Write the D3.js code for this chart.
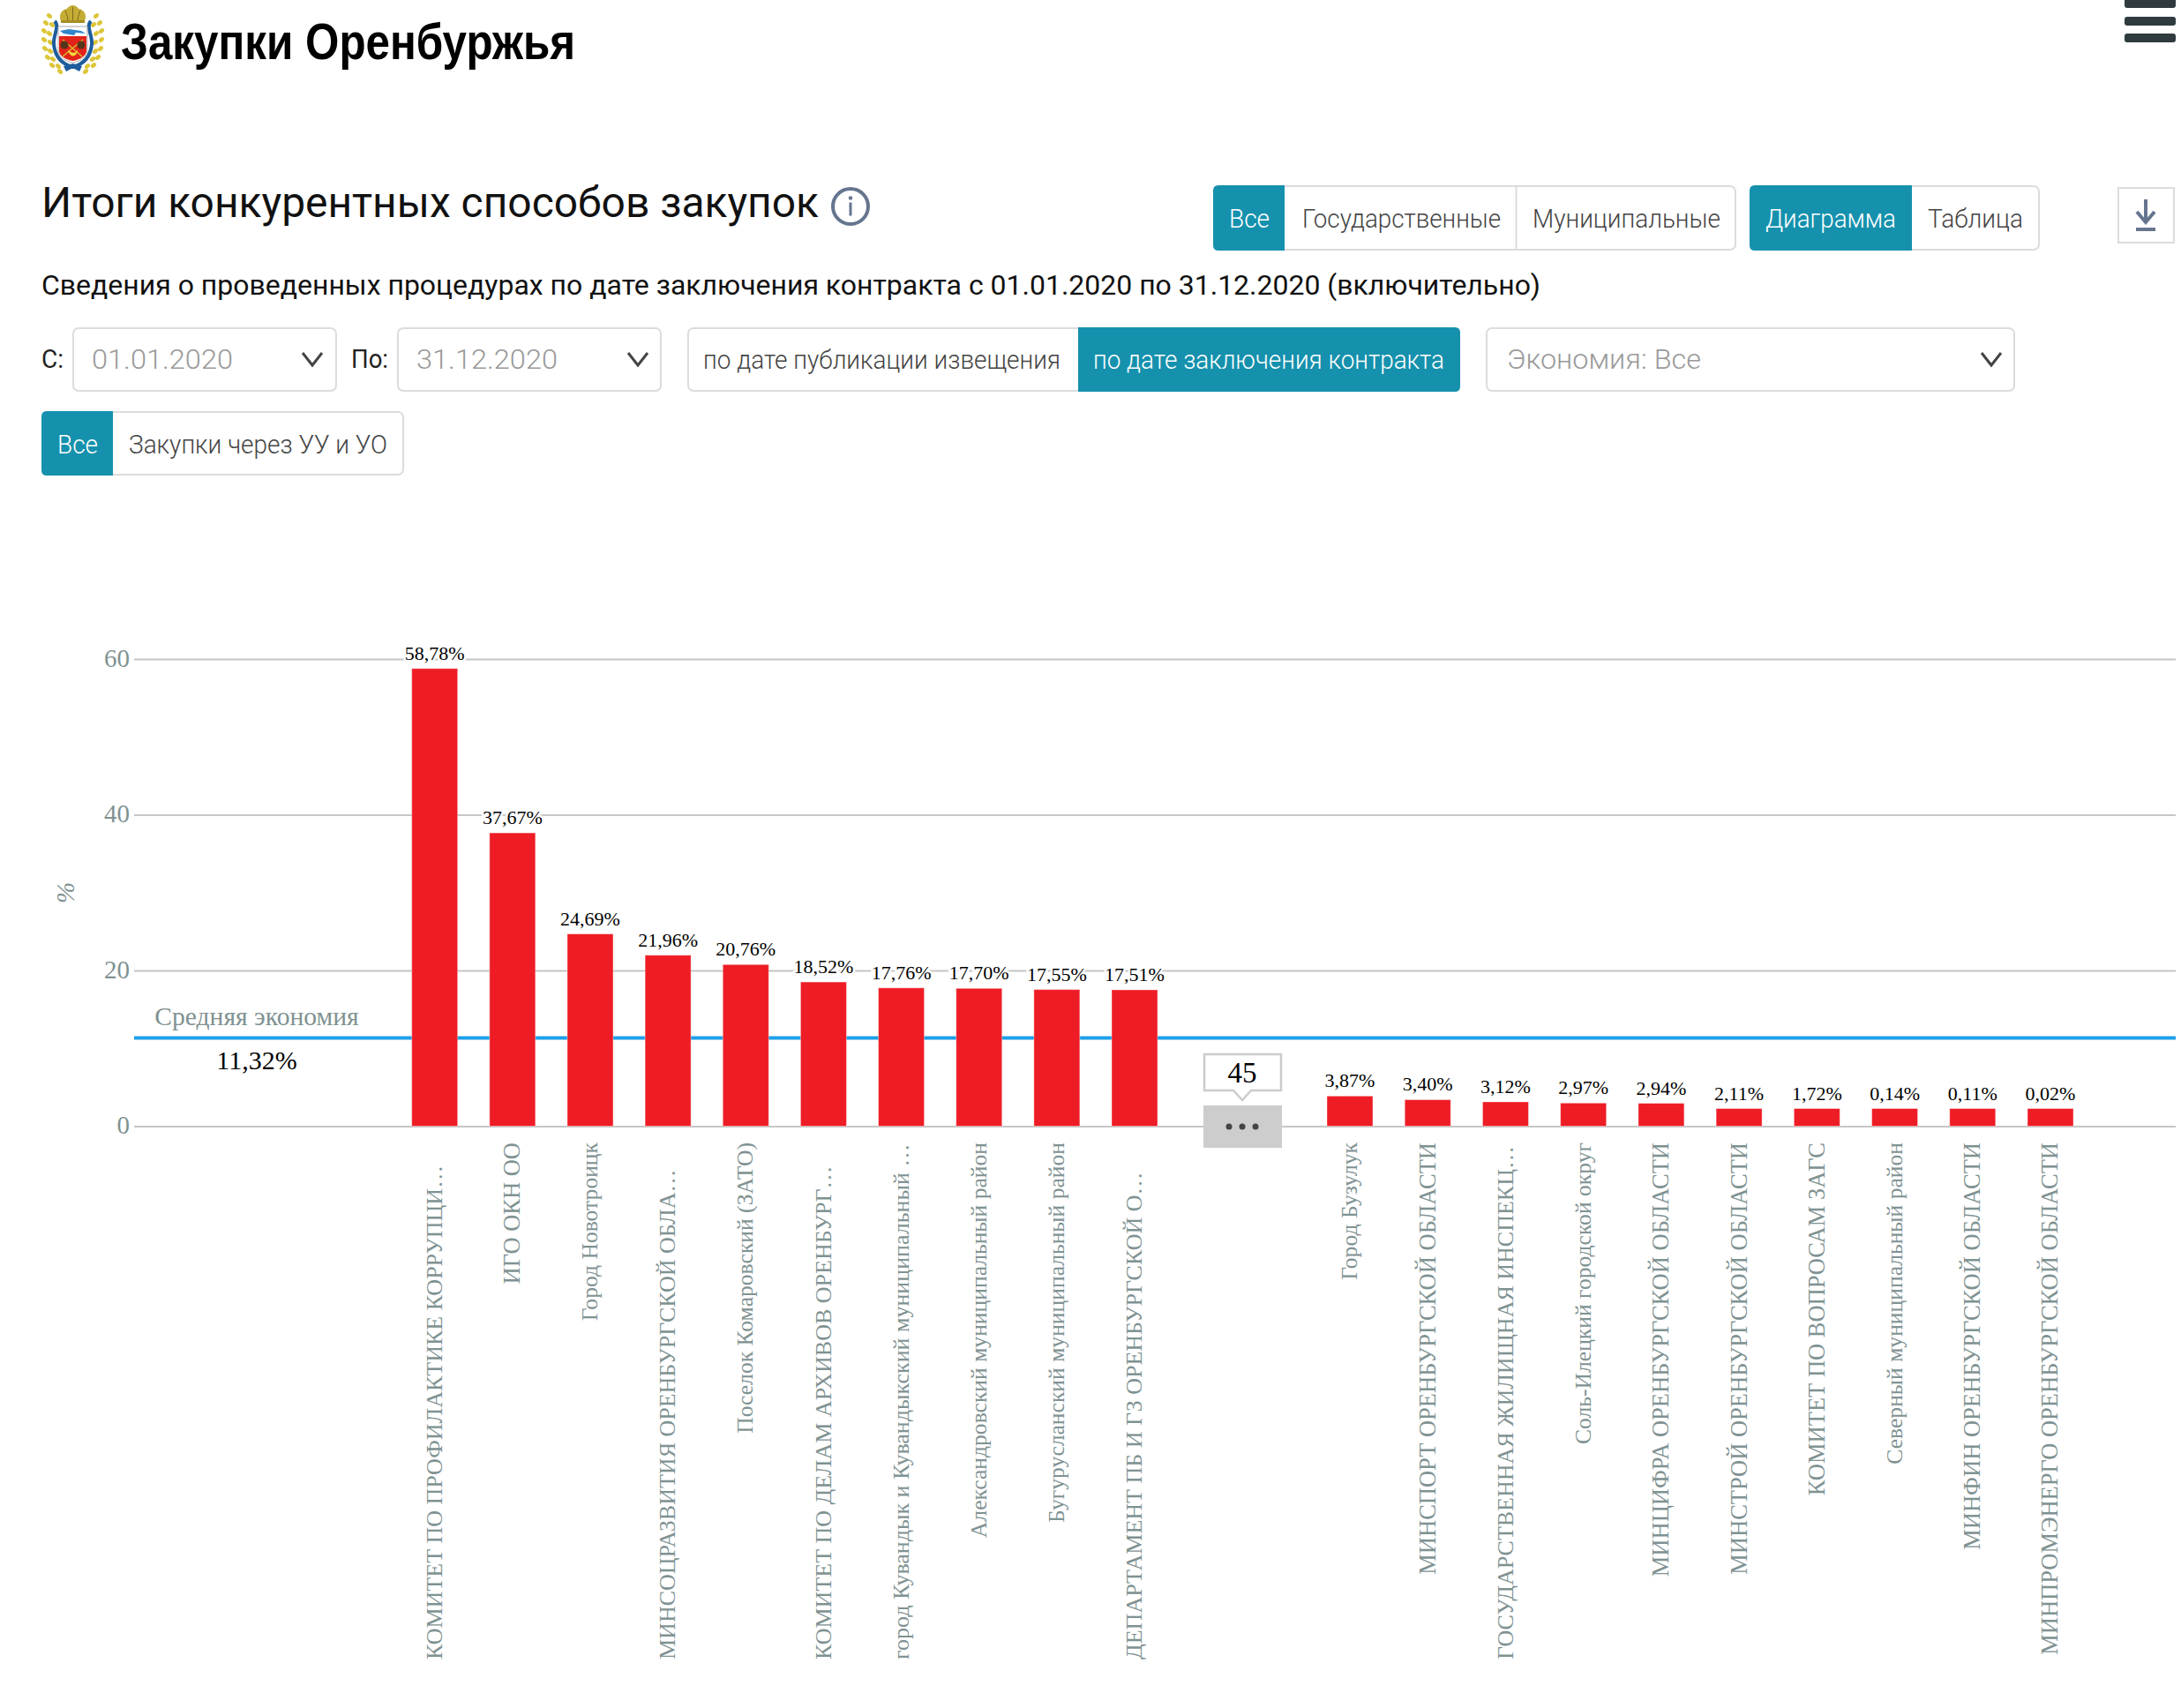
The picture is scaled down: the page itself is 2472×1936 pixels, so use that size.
<!DOCTYPE html>
<html lang="ru">
<head>
<meta charset="utf-8">
<title>Закупки Оренбуржья</title>
<script src="https://cdn.jsdelivr.net/npm/d3@7"></script>
<style>
  html, body { margin: 0; padding: 0; background: #fff; }
  svg { display: block; }
</style>
</head>
<body>
<div id="chart"></div>
<script>
// Chart data
const categories = [
  "КОМИТЕТ ПО ПРОФИЛАКТИКЕ КОРРУПЦИ…",
  "ИГО ОКН ОО",
  "Город Новотроицк",
  "МИНСОЦРАЗВИТИЯ ОРЕНБУРГСКОЙ ОБЛА…",
  "Поселок Комаровский (ЗАТО)",
  "КОМИТЕТ ПО ДЕЛАМ АРХИВОВ ОРЕНБУРГ…",
  "город Кувандык и Кувандыкский муниципальный …",
  "Александровский муниципальный район",
  "Бугурусланский муниципальный район",
  "ДЕПАРТАМЕНТ ПБ И ГЗ ОРЕНБУРГСКОЙ О…",
  "Город Бузулук",
  "МИНСПОРТ ОРЕНБУРГСКОЙ ОБЛАСТИ",
  "ГОСУДАРСТВЕННАЯ ЖИЛИЩНАЯ ИНСПЕКЦ…",
  "Соль-Илецкий городской округ",
  "МИНЦИФРА ОРЕНБУРГСКОЙ ОБЛАСТИ",
  "МИНСТРОЙ ОРЕНБУРГСКОЙ ОБЛАСТИ",
  "КОМИТЕТ ПО ВОПРОСАМ ЗАГС",
  "Северный муниципальный район",
  "МИНФИН ОРЕНБУРГСКОЙ ОБЛАСТИ",
  "МИНПРОМЭНЕРГО ОРЕНБУРГСКОЙ ОБЛАСТИ"
];
const savings = [58.78, 37.67, 24.69, 21.96, 20.76, 18.52, 17.76, 17.70, 17.55, 17.51,
  3.87, 3.40, 3.12, 2.97, 2.94, 2.11, 1.72, 0.14, 0.11, 0.02];
const yTicks = [0, 20, 40, 60];
const averageSaving = 11.32;
const hiddenCount = 45;

const teal = "#1591ad";
const border = "#dcdcdc";
const axisGrey = "#7f9292";
const sans = "Roboto, sans-serif";
const serif = "'Liberation Serif', serif";

const svg = d3.select("#chart").append("svg")
  .attr("width", 2472)
  .attr("height", 1936);

// ---------- Chart ----------
const y = d3.scaleLinear().domain([0, 60]).range([1276.5, 747]);
// first ten bars, then the collapsed gap, then the last ten
const x = d3.scaleLinear().domain([0, 9, 10, 19]).range([492.7, 1286, 1530, 2324]);
const barWidth = 52;
const minBarHeight = 20;
const barTop = v => Math.min(y(v), y(0) - minBarHeight);
const fmt = v => v.toFixed(2).replace(".", ",") + "%";

const chart = svg.append("g");

// Grid and y labels
const yAxis = chart.append("g")
  .attr("transform", "translate(152,0)")
  .call(d3.axisLeft(y).tickValues(yTicks).tickSize(-2314).tickPadding(5));
yAxis.select(".domain").remove();
yAxis.selectAll(".tick line").attr("stroke", "#c6c6c6").attr("stroke-width", 2);
yAxis.selectAll(".tick text")
  .attr("fill", axisGrey)
  .attr("dy", 8)
  .style("font", `29px ${serif}`);

chart.append("text")
  .attr("transform", "translate(84,1012) rotate(-90)")
  .attr("text-anchor", "middle")
  .attr("fill", axisGrey)
  .style("font", `italic 29px ${serif}`)
  .text("%");

// Average line
chart.append("line")
  .attr("x1", 152).attr("x2", 2466)
  .attr("y1", y(averageSaving)).attr("y2", y(averageSaving))
  .attr("stroke", "#1e9fe8")
  .attr("stroke-width", 4);

chart.append("text")
  .attr("x", 291).attr("y", 1162)
  .attr("text-anchor", "middle")
  .attr("fill", axisGrey)
  .style("font", `29.6px ${serif}`)
  .text("Средняя экономия");

chart.append("text")
  .attr("x", 291).attr("y", 1212)
  .attr("text-anchor", "middle")
  .attr("fill", "#000")
  .style("font", `30px ${serif}`)
  .text(fmt(averageSaving));

// Bars
chart.append("g").selectAll("rect")
  .data(savings)
  .enter()
  .append("rect")
  .attr("x", (d, i) => x(i) - barWidth / 2)
  .attr("y", d => barTop(d))
  .attr("width", barWidth)
  .attr("height", d => y(0) - barTop(d))
  .attr("fill", "#ee1c25")
  .attr("stroke", "#fff")
  .attr("stroke-opacity", 0.4)
  .attr("stroke-width", 1);

// Value labels with white halo
chart.append("g").selectAll("text")
  .data(savings)
  .enter()
  .append("text")
  .attr("x", (d, i) => x(i))
  .attr("y", d => barTop(d) - 10)
  .attr("text-anchor", "middle")
  .attr("fill", "#000")
  .attr("stroke", "#fff")
  .attr("stroke-width", 5)
  .attr("paint-order", "stroke")
  .style("font", `22px ${serif}`)
  .text(d => fmt(d));

// Category labels. Cut names run from the bottom edge, whole ones hang from the axis
const isCut = i => categories[i].endsWith("…");
const isCaps = i => categories[i] === categories[i].toUpperCase();
const xAxis = chart.append("g")
  .attr("transform", "translate(0,1295)")
  .call(d3.axisBottom(x)
    .tickValues(d3.range(categories.length))
    .tickFormat(i => categories[i])
    .tickSize(0));
xAxis.select(".domain").remove();
xAxis.selectAll(".tick text")
  .attr("fill", axisGrey)
  .style("font", d => `${isCut(d) ? 26 : isCaps(d) ? 26.5 : 25.6}px ${serif}`)
  .attr("dy", "0.3em")
  .attr("y", 0)
  .attr("transform", d => isCut(d) ? "translate(0,586) rotate(-90)" : "rotate(-90)")
  .attr("text-anchor", d => isCut(d) ? "start" : "end");

// Collapsed bars block with its counter
chart.append("rect")
  .attr("x", 1364).attr("y", 1253)
  .attr("width", 89).attr("height", 48)
  .attr("fill", "#cdcdcd");
chart.append("g").selectAll("circle")
  .data([-15, 0, 15])
  .enter()
  .append("circle")
  .attr("cx", d => 1408 + d).attr("cy", 1277).attr("r", 3.5)
  .attr("fill", "#444");
chart.append("path")
  .attr("d", "M1365,1195H1452V1236H1418L1408,1247L1398,1236H1365Z")
  .attr("fill", "#fff")
  .attr("stroke", "#ccc")
  .attr("stroke-width", 2.5);
chart.append("text")
  .attr("x", 1408).attr("y", 1227)
  .attr("text-anchor", "middle")
  .attr("fill", "#000")
  .style("font", `33px ${serif}`)
  .text(hiddenCount);

// ---------- Page controls ----------
const ui = svg.append("g");

function label(txt, x0, baseline, size, color, extra) {
  const t = ui.append("text")
    .attr("x", x0).attr("y", baseline)
    .attr("fill", color)
    .style("font", `${extra && extra.weight || 400} ${size}px ${extra && extra.family || sans}`)
    .text(txt);
  if (extra && extra.len) {
    t.attr("textLength", extra.len).attr("lengthAdjust", "spacingAndGlyphs");
  }
  return t;
}

function box(x0, y0, w, h) {
  ui.append("rect")
    .attr("x", x0).attr("y", y0)
    .attr("width", w).attr("height", h)
    .attr("rx", 6)
    .attr("fill", "#fff")
    .attr("stroke", border)
    .attr("stroke-width", 2);
}

// active part of a button group, rounded only on the outer side
function activePart(x0, y0, w, h, side) {
  const r = 6;
  const d = side === "left"
    ? `M${x0 + w},${y0}H${x0 + r}Q${x0},${y0} ${x0},${y0 + r}V${y0 + h - r}Q${x0},${y0 + h} ${x0 + r},${y0 + h}H${x0 + w}Z`
    : `M${x0},${y0}H${x0 + w - r}Q${x0 + w},${y0} ${x0 + w},${y0 + r}V${y0 + h - r}Q${x0 + w},${y0 + h} ${x0 + w - r},${y0 + h}H${x0}Z`;
  ui.append("path").attr("d", d).attr("fill", teal);
}

function chevron(cx, cy) {
  ui.append("path")
    .attr("d", `M${cx - 11},${cy - 7}L${cx},${cy + 7}L${cx + 11},${cy - 7}`)
    .attr("fill", "none")
    .attr("stroke", "#444")
    .attr("stroke-width", 3);
}

// Header
label("Закупки Оренбуржья", 137, 67, 58, "#000", { weight: 700, family: "'Liberation Sans', sans-serif", len: 515 });

// Coat of arms: two wreaths, ribbon, crown, shield
const arms = ui.append("g");
const leaves = [[56, 18], [52, 26], [59, 28], [50, 35], [56, 38], [50, 45], [57, 48], [51, 55], [57, 58], [54, 65], [60, 67], [59, 74], [66, 75], [68, 81]];
[1, -1].forEach(side => {
  leaves.forEach(l => {
    arms.append("ellipse")
      .attr("cx", side > 0 ? l[0] : 165 - l[0])
      .attr("cy", l[1])
      .attr("rx", 3.4).attr("ry", 2.4)
      .attr("transform", `rotate(${side * 40} ${side > 0 ? l[0] : 165 - l[0]} ${l[1]})`)
      .attr("fill", "#dcc63a");
  });
});
arms.append("path")
  .attr("d", "M62,24C68,30 60,40 61,50C62,62 68,72 82.5,76C97,72 103,62 104,50C105,40 97,30 103,24")
  .attr("fill", "none").attr("stroke", "#1d5c9c").attr("stroke-width", 4);
arms.append("path").attr("d", "M72,75L82.5,72L93,75L90,81L82.5,77L75,81Z").attr("fill", "#1d5c9c");
arms.append("path").attr("d", "M69,24C66,16 70,11 76,10C78,7 80,6 82.5,6C85,6 87,7 89,10C95,11 99,16 96,24Z").attr("fill", "#c4ac35");
arms.append("path").attr("d", "M74,12C76,17 77,20 77,24M82.5,8V24M91,12C89,17 88,20 88,24").attr("fill", "none").attr("stroke", "#7d6a1c").attr("stroke-width", 1);
arms.append("rect").attr("x", 69).attr("y", 23).attr("width", 27).attr("height", 3).attr("fill", "#a58c24");
arms.append("path").attr("d", "M66,30H99V58C99,64 90,70 82.5,71C75,70 66,64 66,58Z").attr("fill", "#fff").attr("stroke", "#a9a9a9").attr("stroke-width", 1);
arms.append("path").attr("d", "M68,35L78,33L92,35L97,38L86,37L84,40L72,38Z").attr("fill", "#2f86cc");
arms.append("path").attr("d", "M67,41H98V58C98,63 90,68 82.5,69C75,68 67,63 67,58Z").attr("fill", "#e2231a");
arms.append("path").attr("d", "M71,45L93,64M94,45L71,64").attr("stroke", "#d8b92e").attr("stroke-width", 1.5);
arms.append("circle").attr("cx", 73).attr("cy", 51).attr("r", 4.5).attr("fill", "#54351a");
arms.append("circle").attr("cx", 92).attr("cy", 51).attr("r", 4.5).attr("fill", "#54351a");
arms.append("path").attr("d", "M77,56C79,66 87,66 88,56C86,61 81,61 77,56Z").attr("fill", "#f3d838");

// Hamburger
[[-6, 15], [19, 10], [38, 10]].forEach(b => {
  ui.append("rect")
    .attr("x", 2408).attr("y", b[0])
    .attr("width", 58).attr("height", b[1])
    .attr("rx", 3)
    .attr("fill", "#2f3b3f");
});

// Title
label("Итоги конкурентных способов закупок", 47, 246, 48, "#111", { len: 881 });
ui.append("circle").attr("cx", 964).attr("cy", 234).attr("r", 20)
  .attr("fill", "none").attr("stroke", "#66758f").attr("stroke-width", 4);
ui.append("circle").attr("cx", 964).attr("cy", 224.5).attr("r", 2.2).attr("fill", "#66758f");
ui.append("rect").attr("x", 962.5).attr("y", 229.5).attr("width", 3).attr("height", 15).attr("fill", "#66758f");

label("Сведения о проведенных процедурах по дате заключения контракта с 01.01.2020 по 31.12.2020 (включительно)", 47, 334, 32, "#111", { len: 1699 });

// Top-right button groups
box(1376, 211, 591, 72);
activePart(1375, 210, 81, 74, "left");
ui.append("line").attr("x1", 1718.5).attr("x2", 1718.5).attr("y1", 211).attr("y2", 283).attr("stroke", border).attr("stroke-width", 2);
label("Все", 1393, 258, 29, "#fff", { len: 46, weight: 300 });
label("Государственные", 1476, 258, 29, "#444", { len: 225, weight: 300 });
label("Муниципальные", 1737, 258, 29, "#444", { len: 213, weight: 300 });

box(1984, 211, 327, 72);
activePart(1983, 210, 184, 74, "left");
label("Диаграмма", 2001, 258, 29, "#fff", { len: 148, weight: 300 });
label("Таблица", 2185, 258, 29, "#444", { len: 108, weight: 300 });

// Download button
ui.append("rect").attr("x", 2401).attr("y", 213).attr("width", 63).attr("height", 62)
  .attr("fill", "#fff").attr("stroke", border).attr("stroke-width", 2);
ui.append("path").attr("d", "M2432,226V252M2422,240L2432,252L2442,240")
  .attr("fill", "none").attr("stroke", "#66758f").attr("stroke-width", 4);
ui.append("rect").attr("x", 2421).attr("y", 258).attr("width", 22).attr("height", 4).attr("fill", "#66758f");

// Filters row
label("С:", 47, 417, 29, "#222", { len: 25 });
box(83, 372, 298, 71);
label("01.01.2020", 104, 418, 32, "#999", { len: 160, weight: 300 });
chevron(354, 407);

label("По:", 398, 417, 29, "#222", { len: 42 });
box(451, 372, 298, 71);
label("31.12.2020", 472, 418, 32, "#999", { len: 160, weight: 300 });
chevron(723, 407);

box(780, 372, 874, 71);
activePart(1222, 371, 433, 73, "right");
label("по дате публикации извещения", 797, 418, 29, "#444", { len: 405, weight: 300 });
label("по дате заключения контракта", 1239, 418, 29, "#fff", { len: 398, weight: 300 });

box(1685, 372, 598, 71);
label("Экономия: Все", 1708, 418, 32, "#999", { len: 220, weight: 300 });
chevron(2257, 407);

// Second filters row
box(48, 467, 409, 71);
activePart(47, 466, 81, 73, "left");
label("Все", 65, 514, 29, "#fff", { len: 46, weight: 300 });
label("Закупки через УУ и УО", 146, 514, 29, "#444", { len: 293, weight: 300 });
</script>
</body>
</html>
